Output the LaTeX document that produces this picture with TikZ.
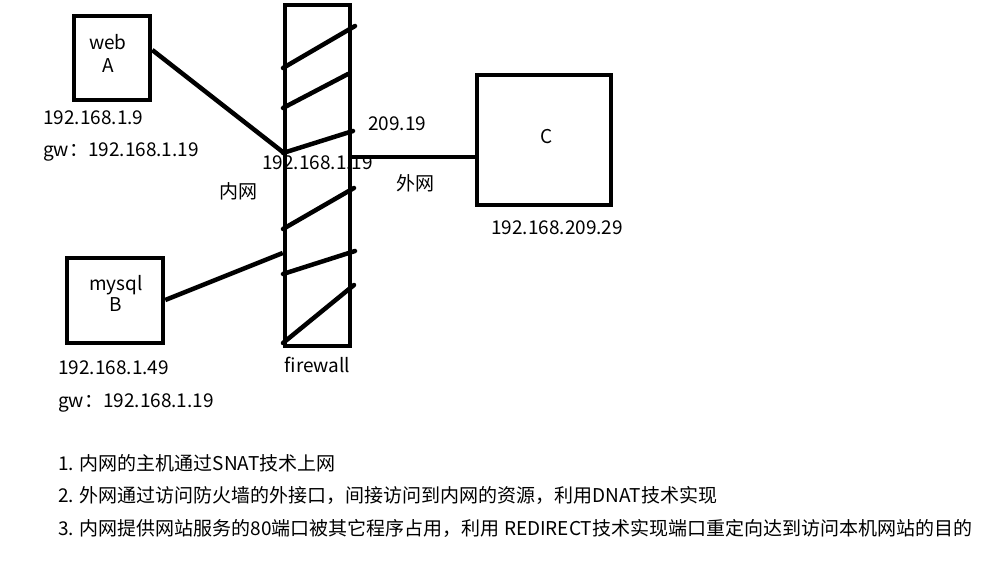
\documentclass[tikz,border=0pt]{standalone}
\usepackage{fontspec}
\setmainfont{Noto Sans CJK SC}
\usetikzlibrary{positioning}
\tikzset{
  hostbox/.style={rectangle, draw=black, line width=4.5pt, inner sep=0pt},
  wire/.style={line width=4.5pt},
  stripe/.style={line width=4.5pt, line cap=round},
  txt/.style={inner sep=0pt, font=\fontsize{19}{23}\selectfont},
  iplabel/.style={txt, anchor=west},
  note/.style={txt, anchor=west},
}

\begin{document}
\begin{tikzpicture}[x=1pt, y=-1pt]
  \useasboundingbox (0,0) rectangle (985,567);

  % --- HOSTS ---
  \node[hostbox, minimum width=76pt, minimum height=84pt] (web) at (112,58) {};
  \node[txt, align=center] (webtxt) at (108,53) {web\\A};
  \node[hostbox, minimum width=96pt, minimum height=85pt] (mysql) at (115,300.5) {};
  \node[txt, align=center, font=\fontsize{19}{21}\selectfont] (mysqltxt) at (116,293) {mysql\\B};
  \node[hostbox, minimum width=134pt, minimum height=130pt] (C) at (544,140) {};
  \node[txt] (Ctxt) at (547,137) {C};

  % --- FIREWALL ---
  \node[hostbox, minimum width=65pt, minimum height=341pt] (fw) at (317.5,175.5) {};
  \foreach \ya/\xb/\yb in {68/355/26, 108/348/74, 153/353/131, 229/354/188, 274/355/251, 343/354/285}
    \draw[stripe] (283,\ya) -- (\xb,\yb);
  \node[txt, below=9pt of fw] (fwtxt) {firewall};

  % --- LINKS ---
  \draw[wire] (web.east |- 0,50) -- (fw.west |- 0,152);
  \draw[wire] (mysql.east |- 0,300) -- (fw.west |- 0,253);
  \draw[wire] (fw.east |- 0,157) -- (C.west |- 0,157);

  % --- ADDRESSES ---
  \node[iplabel] (webip) at (43,118) {192.168.1.9};
  \node[iplabel] (webgw) at (43,152) {gw：192.168.1.19};
  \node[iplabel] (mysqlip) at (58,368) {192.168.1.49};
  \node[iplabel] (mysqlgw) at (58,403) {gw：192.168.1.19};
  \node[iplabel] (fwin) at (262,163) {192.168.1.19};
  \node[iplabel] (fwout) at (368,124) {209.19};
  \node[iplabel] (Cip) at (491,228) {192.168.209.29};
  \node[txt] (lan) at (238,191) {内网};
  \node[txt] (wan) at (415,183) {外网};

  % --- NOTES ---
  \node[note] (n1) at (58,463) {1. 内网的主机通过SNAT技术上网};
  \node[note] (n2) at (58,495) {2. 外网通过访问防火墙的外接口，间接访问到内网的资源，利用DNAT技术实现};
  \node[note] (n3) at (58,528) {3. 内网提供网站服务的80端口被其它程序占用，利用 REDIRECT技术实现端口重定向达到访问本机网站的目的};
\end{tikzpicture}
\end{document}
